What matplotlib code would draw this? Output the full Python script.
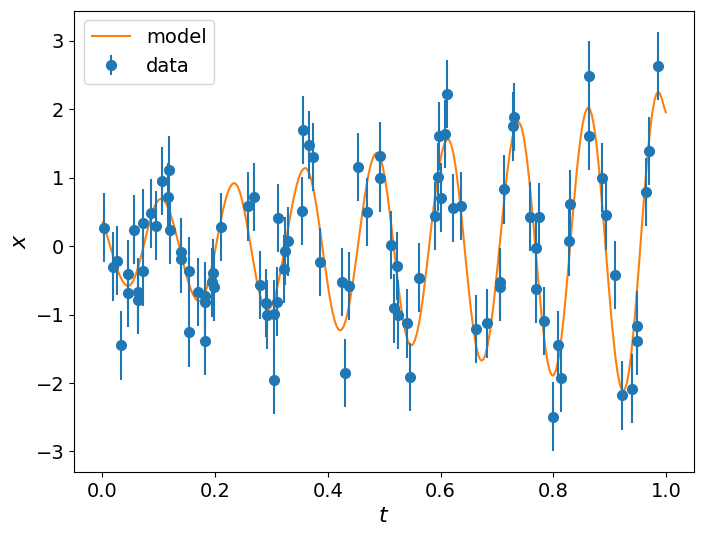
import numpy as np
import matplotlib
matplotlib.use("Agg")
from matplotlib import pyplot as plt
from matplotlib.path import Path
from matplotlib.patches import PathPatch

# measured data points (t, x), all with the same error bar
t_data = [0.003, 0.019, 0.026, 0.034, 0.045, 0.045, 0.057, 0.063, 0.064, 0.073,
          0.073, 0.087, 0.096, 0.106, 0.116, 0.119, 0.121, 0.139, 0.140, 0.154,
          0.154, 0.170, 0.182, 0.182, 0.182, 0.195, 0.197, 0.199, 0.211, 0.258,
          0.270, 0.280, 0.290, 0.292, 0.304, 0.305, 0.310, 0.311, 0.323, 0.325,
          0.330, 0.355, 0.356, 0.366, 0.373, 0.387, 0.425, 0.431, 0.438, 0.454,
          0.470, 0.493, 0.493, 0.512, 0.518, 0.522, 0.524, 0.541, 0.545, 0.561,
          0.590, 0.596, 0.598, 0.600, 0.608, 0.611, 0.622, 0.637, 0.663, 0.683,
          0.706, 0.706, 0.712, 0.728, 0.731, 0.759, 0.770, 0.770, 0.774, 0.784,
          0.800, 0.808, 0.814, 0.827, 0.830, 0.863, 0.864, 0.886, 0.894, 0.909,
          0.921, 0.939, 0.948, 0.949, 0.964, 0.969, 0.985]
x_data = [0.27, -0.30, -0.21, -1.45, -0.41, -0.68, 0.24, -0.67, -0.79, 0.34,
          -0.37, 0.48, 0.30, 0.95, 0.72, 1.11, 0.24, -0.09, -0.19, -0.37,
          -1.26, -0.67, -0.73, -0.81, -1.39, -0.53, -0.39, -0.59, 0.28, 0.58,
          0.72, -0.57, -0.83, -1.00, -1.95, -0.99, -0.81, 0.41, -0.33, -0.07,
          0.07, 0.51, 1.70, 1.48, 1.30, -0.23, -0.52, -1.85, -0.58, 1.16,
          0.50, 1.31, 1.00, 0.02, -0.91, -0.29, -1.00, -1.13, -1.91, -0.46,
          0.44, 1.01, 1.61, 0.71, 1.64, 2.22, 0.56, 0.59, -1.21, -1.13,
          -0.52, -0.59, 0.83, 1.75, 1.89, 0.43, -0.03, -0.63, 0.42, -1.09,
          -2.49, -1.45, -1.92, 0.07, 0.61, 1.61, 2.49, 1.00, 0.45, -0.42,
          -2.18, -2.08, -1.38, -1.16, 0.79, 1.39, 2.63]
x_err = 0.5

# model curve: start, every turning point, end
model_t = [0.0, 0.046, 0.104, 0.172, 0.234, 0.293, 0.360, 0.422, 0.487,
           0.548, 0.613, 0.673, 0.738, 0.799, 0.862, 0.924, 0.986, 1.0]
model_x = [0.36, -0.58, 0.69, -0.80, 0.92, -0.93, 1.14, -1.23, 1.36,
           -1.45, 1.56, -1.67, 1.81, -1.89, 2.02, -2.11, 2.25, 1.94]

plt.rcParams['font.size'] = 14

fig = plt.figure(figsize=(7.04, 5.36), dpi=100)
ax = fig.add_axes([74/704, 1-472/536, 620.3/704, 461.3/536])

# smooth path through turning points (flat tangent at each turning point)
k = 0.3642
verts = [(model_t[0], model_x[0])]
codes = [Path.MOVETO]
n = len(model_t)
for i in range(n - 1):
    t0, x0 = model_t[i], model_x[i]
    t1, x1 = model_t[i+1], model_x[i+1]
    dt = t1 - t0
    if i == 0:
        c1 = (t0 + dt/3, x0 + (x1 - x0)/3)
    else:
        c1 = (t0 + k*dt, x0)
    if i == n - 2:
        c2 = (t1 - dt/3, x1 + (x0 - x1)/3)
    else:
        c2 = (t1 - k*dt, x1)
    verts += [c1, c2, (t1, x1)]
    codes += [Path.CURVE4] * 3
ax.add_patch(PathPatch(Path(verts, codes), fill=False, edgecolor='C1', lw=1.5))
ax.plot([], [], color='C1', label='model')

ax.errorbar(t_data, x_data, yerr=x_err, fmt='o', ms=7, color='C0', label='data')

ax.set_xlim(-0.05, 1.05)
ax.set_ylim(-3.30, 3.44)
ax.set_xlabel('$t$', fontsize=16)
ax.set_ylabel('$x$', fontsize=16)
ax.legend(loc='upper left')

plt.savefig('out.png', dpi=100)
